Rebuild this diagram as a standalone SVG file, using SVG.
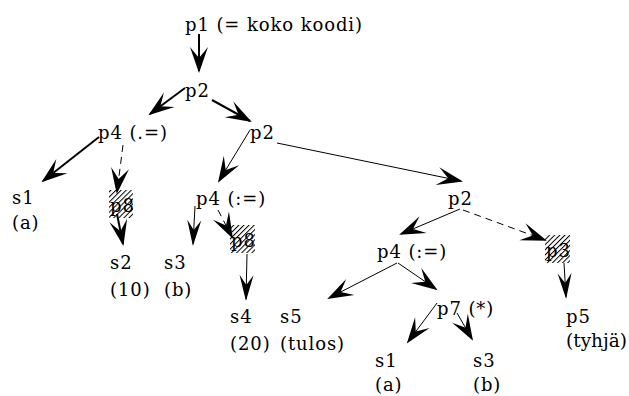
<svg xmlns="http://www.w3.org/2000/svg" width="629" height="396" viewBox="0 0 629 396">
<style>
.t{font-family:"DejaVu Serif","Liberation Serif",serif;font-size:18px;letter-spacing:0.9px;fill:#000}
.thick{stroke:#000;stroke-width:2;fill:none;marker-end:url(#big)}
.thin{stroke:#000;stroke-width:1;fill:none;marker-end:url(#big)}
.slim{stroke:#000;stroke-width:1;fill:none;marker-end:url(#slim)}
.dash{stroke:#000;stroke-width:1;fill:none;stroke-dasharray:7 5;marker-end:url(#big)}
.hatch{fill:url(#hp);stroke:none}
</style>
<defs>
<marker id="big" markerUnits="userSpaceOnUse" viewBox="-28 -12 32 24" markerWidth="32" markerHeight="24" refX="0" refY="0" orient="auto" overflow="visible">
<path d="M2,0 L-24,-9 L-13,0 L-24,9 Z" fill="#000"/>
</marker>
<marker id="slim" markerUnits="userSpaceOnUse" viewBox="-28 -12 32 24" markerWidth="32" markerHeight="24" refX="0" refY="0" orient="auto" overflow="visible">
<path d="M2,0 L-24,-7 L-14,0 L-24,7 Z" fill="#000"/>
</marker>
<pattern id="hp" patternUnits="userSpaceOnUse" width="3.6" height="3.6" patternTransform="rotate(45)">
<line x1="0.5" y1="0" x2="0.5" y2="3.6" stroke="#000" stroke-width="1"/>
</pattern>
</defs>
<g id="connectors">
<line class="thick" x1="199" y1="34" x2="199" y2="71"/>
<line class="thick" x1="185" y1="88" x2="150" y2="114"/>
<line class="thick" x1="212" y1="100" x2="250" y2="121"/>
<line class="thick" x1="99" y1="137" x2="43" y2="181"/>
<line class="dash" x1="123" y1="145" x2="117" y2="192"/>
<line class="thick" x1="117" y1="214" x2="123" y2="244"/>
<line class="thin" x1="250" y1="130" x2="219" y2="181"/>
<line class="thin" x1="277" y1="143" x2="461" y2="181"/>
<line class="slim" x1="195" y1="206" x2="193" y2="244"/>
<line class="dash" x1="218" y1="210" x2="232" y2="237"/>
<line class="slim" x1="247" y1="254" x2="246" y2="299"/>
<line class="thin" x1="460" y1="209" x2="401" y2="234"/>
<line class="dash" x1="463" y1="210" x2="545" y2="240"/>
<line class="slim" x1="564" y1="263" x2="566" y2="297"/>
<line class="thin" x1="397" y1="263" x2="329" y2="298"/>
<line class="thin" x1="398" y1="263" x2="436" y2="289"/>
<line class="thin" x1="437" y1="303" x2="408" y2="342"/>
<line class="thin" x1="457" y1="313" x2="472" y2="339"/>
</g>
<g class="t">
<g id="p1"><text x="185" y="31">p1 (= koko koodi)</text></g>
<g id="p2a"><text x="185" y="97">p2</text></g>
<g id="p4a"><text x="98" y="139">p4 (.=)</text></g>
<g id="p2b"><text x="250" y="139">p2</text></g>
<g id="s1a"><text x="12" y="204">s1</text><text x="12" y="229">(a)</text></g>
<g id="p8a"><rect class="hatch" x="109" y="190" width="24" height="28"/><text x="110" y="212">p8</text></g>
<g id="s2"><text x="110" y="269">s2</text><text x="110" y="296">(10)</text></g>
<g id="s3a"><text x="164" y="269">s3</text><text x="164" y="296">(b)</text></g>
<g id="p4b"><text x="196" y="205">p4 (:=)</text></g>
<g id="p8b"><rect class="hatch" x="230" y="225" width="25" height="28"/><text x="231" y="247">p8</text></g>
<g id="s4"><text x="230" y="323">s4</text><text x="230" y="350">(20)</text></g>
<g id="s5"><text x="280" y="323">s5</text><text x="280" y="350">(tulos)</text></g>
<g id="p2c"><text x="448" y="205">p2</text></g>
<g id="p3"><rect class="hatch" x="545" y="235" width="25" height="28"/><text x="546" y="257">p3</text></g>
<g id="p4c"><text x="377" y="258">p4 (:=)</text></g>
<g id="p7"><text x="437" y="315">p7 (*)</text></g>
<g id="s1b"><text x="375" y="367">s1</text><text x="375" y="391">(a)</text></g>
<g id="s3b"><text x="473" y="367">s3</text><text x="473" y="391">(b)</text></g>
<g id="p5"><text x="566" y="323">p5</text><text x="566" y="347" style="letter-spacing:0" textLength="61" lengthAdjust="spacingAndGlyphs">(tyhjä)</text></g>
</g>
</svg>
